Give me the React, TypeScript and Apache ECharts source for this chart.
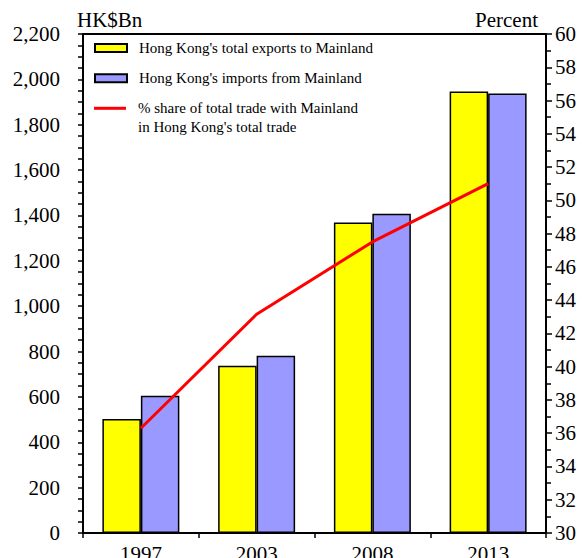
import React, { useEffect, useRef } from "react";
import * as echarts from "echarts";

const categories = ["1997", "2003", "2008", "2013"];
const exportsToMainland = [503, 737, 1369, 1946];
const importsFromMainland = [605, 781, 1407, 1938];
const shareOfTrade = [36.3, 43.15, 47.5, 51.0];

const leftTicks = { min: 0, max: 2200, interval: 200 };
const rightTicks = { min: 30, max: 60, interval: 2 };

const FONT = "'Liberation Serif', 'Times New Roman', serif";

export default function App() {
  const ref = useRef<HTMLDivElement>(null);
  useEffect(() => {
    if (!ref.current) return;
    const chart = echarts.init(ref.current, null, { renderer: "svg" });
    const axisLineStyle = { color: "#000", width: 2 };
    const legendText = { fontFamily: FONT, fontSize: 15, color: "#000", lineHeight: 15, padding: [0, 0, 0, 7] };
    const legendBase = { left: 94, padding: 0, itemWidth: 32, textStyle: legendText };
    chart.setOption({
      animation: false,
      backgroundColor: "#fff",
      textStyle: { fontFamily: FONT, color: "#000" },
      grid: { left: 83, right: 40, top: 34, bottom: 25, containLabel: false, outerBoundsMode: "none" },
      legend: [
        {
          ...legendBase,
          data: [{ name: "Hong Kong's total exports to Mainland", icon: "rect" }],
          top: 40.5,
          itemHeight: 8,
        },
        {
          ...legendBase,
          data: [{ name: "Hong Kong's imports from Mainland", icon: "rect" }],
          top: 70.8,
          itemHeight: 8,
        },
        {
          ...legendBase,
          data: [{ name: "% share of total trade with Mainland", icon: "rect" }],
          top: 100.8,
          itemHeight: 3,
        },
      ],
      graphic: [
        {
          type: "text",
          left: 138,
          top: 119.5,
          style: { text: "in Hong Kong's total trade", font: `15px ${FONT}`, fill: "#000" },
        },
      ],
      xAxis: [
        {
          type: "category",
          data: categories,
          position: "bottom",
          axisLine: { lineStyle: axisLineStyle },
          axisTick: { show: true, length: 5, lineStyle: { color: "#000", width: 1.5 } },
          axisLabel: { fontFamily: FONT, fontSize: 21, color: "#000", margin: 10 },
          splitLine: { show: false },
        },
        {
          type: "category",
          data: categories,
          position: "top",
          axisLine: { lineStyle: axisLineStyle },
          axisTick: { show: false },
          axisLabel: { show: false },
          splitLine: { show: false },
        },
      ],
      yAxis: [
        {
          type: "value",
          position: "left",
          min: leftTicks.min,
          max: leftTicks.max,
          interval: leftTicks.interval,
          name: "HK$Bn",
          nameLocation: "end",
          nameGap: 4,
          nameTextStyle: { fontFamily: FONT, fontSize: 21, color: "#000", align: "left", padding: [0, 0, 0, -6] },
          axisLine: { show: true, lineStyle: axisLineStyle },
          axisTick: { show: true, length: 5, lineStyle: { color: "#000", width: 1.5 } },
          minorTick: { show: true, splitNumber: 4, length: 5, lineStyle: { color: "#000", width: 1.5 } },
          axisLabel: {
            fontFamily: FONT,
            fontSize: 21,
            color: "#000",
            margin: 23,
            formatter: (v: number) => v.toLocaleString("en-US"),
          },
          splitLine: { show: false },
        },
        {
          type: "value",
          position: "right",
          min: rightTicks.min,
          max: rightTicks.max,
          interval: rightTicks.interval,
          name: "Percent",
          nameLocation: "end",
          nameGap: 4,
          nameTextStyle: { fontFamily: FONT, fontSize: 21, color: "#000", align: "right", padding: [0, 8, 0, 0] },
          axisLine: { show: true, lineStyle: axisLineStyle },
          axisTick: { show: true, length: 6, lineStyle: { color: "#000", width: 1.5 } },
          minorTick: { show: true, splitNumber: 2, length: 5, lineStyle: { color: "#000", width: 1.5 } },
          axisLabel: { fontFamily: FONT, fontSize: 21, color: "#000", margin: 9 },
          splitLine: { show: false },
        },
      ],
      series: [
        {
          name: "Hong Kong's total exports to Mainland",
          type: "bar",
          xAxisIndex: 0,
          yAxisIndex: 0,
          data: exportsToMainland,
          barGap: "0%",
          barCategoryGap: "33.5%",
          itemStyle: { color: "#FFFF00", borderColor: "#000", borderWidth: 1.5 },
        },
        {
          name: "Hong Kong's imports from Mainland",
          type: "bar",
          xAxisIndex: 0,
          yAxisIndex: 0,
          data: importsFromMainland,
          barGap: "0%",
          barCategoryGap: "33.5%",
          itemStyle: { color: "#9999FF", borderColor: "#000", borderWidth: 1.5 },
        },
        {
          name: "% share of total trade with Mainland",
          type: "line",
          xAxisIndex: 0,
          yAxisIndex: 1,
          data: shareOfTrade,
          symbol: "none",
          lineStyle: { color: "#FF0000", width: 3 },
          itemStyle: { color: "#FF0000", borderWidth: 0 },
          z: 5,
        },
      ],
    });
    return () => chart.dispose();
  }, []);
  return (
    <div
      ref={ref}
      style={{ position: "fixed", left: 0, top: 0, width: 586, height: 558 }}
    />
  );
}
